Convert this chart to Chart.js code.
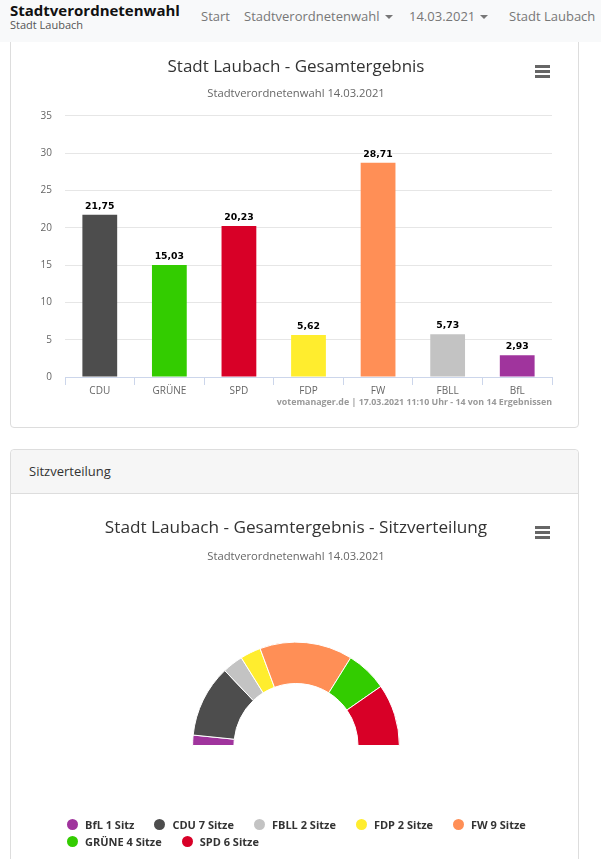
<!DOCTYPE html>
<html lang="de">
<head>
<meta charset="utf-8">
<title>Stadtverordnetenwahl</title>
<script src="https://cdn.jsdelivr.net/npm/chart.js@4/dist/chart.umd.min.js"></script>
<style>
  html, body { margin: 0; padding: 0; background: #fff; overflow: hidden; height: 859px; width: 601px; font-family: "Open Sans", sans-serif; }
  .navbar { position: absolute; left: 0; top: 0; width: 601px; height: 42px; background: #f8f9fa; z-index: 5; white-space: nowrap; }
  .brand { position: absolute; left: 10px; top: 0; font-size: 15px; font-weight: 700; color: #111; }
  .brand-sub { position: absolute; left: 10px; top: 17px; font-size: 11px; color: #555; }
  .nav-item { position: absolute; top: 7px; font-size: 13px; color: #777; }
  .caret { display: inline-block; width: 0; height: 0; margin-left: 5px; vertical-align: 2px; border-left: 4px solid transparent; border-right: 4px solid transparent; border-top: 4px solid #777; }
  .card { position: absolute; left: 10px; width: 567px; border: 1px solid #ddd; border-radius: 4px; box-sizing: content-box; }
  #card1 { top: 20px; height: 406px; }
  #card2 { top: 449px; height: 460px; }
  .card-header { height: 43px; line-height: 43px; background: #f6f6f6; border-bottom: 1px solid #ddd; padding-left: 18px; font-size: 13px; color: #333; border-radius: 4px 4px 0 0; }
  canvas { position: absolute; }
  .menu { position: absolute; left: 535px; width: 15px; height: 3px; background: #666; box-shadow: 0 5px 0 #666, 0 10px 0 #666; z-index: 2; }
  .credits { position: absolute; left: 200px; width: 352px; top: 396px; text-align: right; font-size: 8.85px; font-weight: 700; color: #999; white-space: nowrap; z-index: 2; }
  #legend { position: absolute; left: 67px; top: 816px; width: 480px; display: flex; flex-wrap: wrap; column-gap: 20px; row-gap: 0; font-size: 11px; font-weight: 700; color: #333; }
  #legend div { display: flex; align-items: center; height: 17px; }
  #legend i { display: block; width: 11px; height: 11px; border-radius: 50%; margin-right: 7px; }
</style>
</head>
<body>
<div class="navbar">
  <div class="brand">Stadtverordnetenwahl</div>
  <div class="brand-sub">Stadt Laubach</div>
  <div class="nav-item" style="left:201px">Start</div>
  <div class="nav-item" style="left:244px">Stadtverordnetenwahl<span class="caret"></span></div>
  <div class="nav-item" style="left:409px">14.03.2021<span class="caret"></span></div>
  <div class="nav-item" style="left:509px">Stadt Laubach</div>
</div>

<div class="card" id="card1"></div>
<div class="card" id="card2"><div class="card-header">Sitzverteilung</div></div>

<canvas id="barChart" style="left:12px;top:42px"></canvas>
<canvas id="seatChart" style="left:12px;top:494px"></canvas>
<div class="menu" style="top:65px"></div>
<div class="menu" style="top:526px"></div>
<div class="credits">votemanager.de | 17.03.2021 11:10 Uhr - 14 von 14 Ergebnissen</div>
<div id="legend"></div>

<script>
const parties = ['CDU', 'GRÜNE', 'SPD', 'FDP', 'FW', 'FBLL', 'BfL'];
const votes = [21.75, 15.03, 20.23, 5.62, 28.71, 5.73, 2.93];
const voteColors = ['#4d4d4d', '#33cc00', '#d80027', '#ffed2e', '#ff8f56', '#c3c3c3', '#a0349d'];
const yTicks = [0, 5, 10, 15, 20, 25, 30, 35];

const seatParties = ['BfL', 'CDU', 'FBLL', 'FDP', 'FW', 'GRÜNE', 'SPD'];
const seats = [1, 7, 2, 2, 9, 4, 6];
const seatColors = ['#a0349d', '#4d4d4d', '#c3c3c3', '#ffed2e', '#ff8f56', '#33cc00', '#d80027'];

const titleFont = '"Open Sans", sans-serif';
Chart.defaults.font.family = titleFont;
Chart.defaults.animation = false;
Chart.defaults.responsive = false;

// value labels on top of the bars, german decimal comma
const barLabels = {
  id: 'barLabels',
  afterDatasetsDraw(chart) {
    const ctx = chart.ctx;
    const meta = chart.getDatasetMeta(0);
    ctx.save();
    ctx.font = 'bold 9.3px "DejaVu Sans"';
    ctx.textAlign = 'center';
    ctx.textBaseline = 'bottom';
    ctx.lineJoin = 'round';
    meta.data.forEach((bar, i) => {
      const txt = votes[i].toFixed(2).replace('.', ',');
      ctx.lineWidth = 2;
      ctx.strokeStyle = '#fff';
      ctx.strokeText(txt, bar.x, bar.y - 4);
      ctx.fillStyle = '#000';
      ctx.fillText(txt, bar.x, bar.y - 4);
    });
    ctx.restore();
  }
};

const barCanvas = document.getElementById('barChart');
barCanvas.width = 568;
barCanvas.height = 384;
new Chart(barCanvas, {
  type: 'bar',
  data: {
    labels: parties,
    datasets: [{
      data: votes,
      backgroundColor: voteColors,
      categoryPercentage: 1,
      barPercentage: 0.5
    }]
  },
  options: {
    layout: { padding: { left: 28, right: 28, bottom: 25 } },
    plugins: {
      legend: { display: false },
      tooltip: { enabled: false },
      title: {
        display: true,
        text: 'Stadt Laubach - Gesamtergebnis',
        color: '#333',
        font: { size: 17, weight: 'normal' },
        padding: { top: 15, bottom: 6 }
      },
      subtitle: {
        display: true,
        text: 'Stadtverordnetenwahl 14.03.2021',
        color: '#666',
        font: { size: 11.25, weight: 'normal' },
        padding: { top: 4, bottom: 15 }
      }
    },
    scales: {
      x: {
        afterFit(scale) { scale.height = 24; },
        grid: { drawOnChartArea: false, offset: true, color: '#ccd6eb', tickLength: 8 },
        border: { color: '#ccd6eb' },
        ticks: { color: '#666', font: { size: 10 }, padding: 0, maxRotation: 0 }
      },
      y: {
        min: 0,
        max: 35,
        afterFit(scale) { scale.width = 25; },
        afterBuildTicks(scale) { scale.ticks = yTicks.map(v => ({ value: v })); },
        grid: { color: '#e6e6e6', drawTicks: false },
        border: { display: false },
        ticks: { color: '#666', font: { size: 10 }, padding: 13 }
      }
    }
  },
  plugins: [barLabels]
});

const seatCanvas = document.getElementById('seatChart');
seatCanvas.width = 568;
seatCanvas.height = 365;
new Chart(seatCanvas, {
  type: 'doughnut',
  data: {
    labels: seatParties,
    datasets: [{
      data: seats,
      backgroundColor: seatColors,
      borderColor: '#fff',
      borderWidth: 1
    }]
  },
  options: {
    rotation: -90,
    circumference: 180,
    cutout: '60%',
    layout: { padding: { bottom: 113 } },
    plugins: {
      legend: { display: false },
      tooltip: { enabled: false },
      title: {
        display: true,
        text: 'Stadt Laubach - Gesamtergebnis - Sitzverteilung',
        color: '#333',
        font: { size: 17.2, weight: 'normal' },
        padding: { top: 24, bottom: 7 }
      },
      subtitle: {
        display: true,
        text: 'Stadtverordnetenwahl 14.03.2021',
        color: '#666',
        font: { size: 11.25, weight: 'normal' },
        padding: { top: 4, bottom: 78.5 }
      }
    }
  }
});

// legend as html so the rows can sit tight like in the original
const legendBox = document.getElementById('legend');
seatParties.forEach((name, i) => {
  const item = document.createElement('div');
  const dot = document.createElement('i');
  dot.style.background = seatColors[i];
  item.appendChild(dot);
  item.appendChild(document.createTextNode(name + ' ' + seats[i] + (seats[i] === 1 ? ' Sitz' : ' Sitze')));
  legendBox.appendChild(item);
});
</script>
</body>
</html>
